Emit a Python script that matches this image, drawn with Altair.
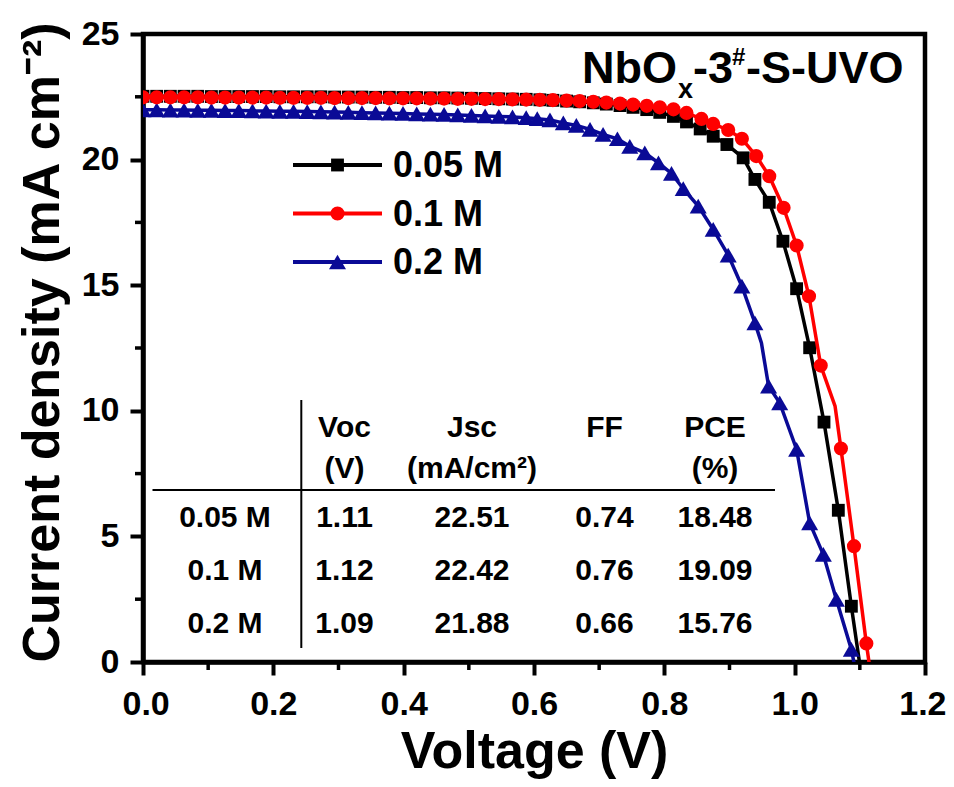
import altair as alt
import pandas as pd

F = "Liberation Sans, Arial, Helvetica, sans-serif"
W, H = 782, 628

SERIES = ["0.05 M", "0.1 M", "0.2 M"]
COLORS = ["#000000", "#ff0000", "#0a0a96"]
SHAPES = ["square", "circle", "triangle-up"]
SIZES = [165, 200, 290]

# ---- J-V data (V in volts, J in mA cm^-2) ----
black_v = [0.000, 0.021, 0.042, 0.063, 0.084, 0.105, 0.126, 0.147, 0.168, 0.189,
           0.210, 0.231, 0.252, 0.273, 0.294, 0.315, 0.336, 0.357, 0.378, 0.399,
           0.420, 0.441, 0.462, 0.483, 0.504, 0.525, 0.546, 0.567, 0.588,
           0.609, 0.629, 0.650, 0.670, 0.691, 0.711, 0.732, 0.752, 0.773, 0.793,
           0.814, 0.834, 0.855, 0.875, 0.896, 0.921, 0.939, 0.961, 0.982, 1.003,
           1.023, 1.045, 1.067, 1.087, 1.105]
black_j = [22.52, 22.52, 22.52, 22.52, 22.52, 22.51, 22.51, 22.51, 22.51, 22.51,
           22.50, 22.50, 22.50, 22.50, 22.49, 22.49, 22.49, 22.48, 22.48, 22.47,
           22.47, 22.46, 22.46, 22.45, 22.44, 22.43, 22.42, 22.41, 22.40,
           22.38, 22.36, 22.33, 22.30, 22.26, 22.21, 22.15, 22.08, 21.99, 21.88,
           21.72, 21.50, 21.22, 20.93, 20.60, 20.07, 19.21, 18.30, 16.75, 14.86,
           12.51, 9.55, 6.04, 2.22, -1.00]
black_line_only = [1.105]

red_v = [0.000, 0.021, 0.042, 0.063, 0.084, 0.105, 0.126, 0.147, 0.168, 0.189,
         0.210, 0.231, 0.252, 0.273, 0.294, 0.315, 0.336, 0.357, 0.378, 0.399,
         0.420, 0.441, 0.462, 0.483, 0.504, 0.525, 0.546, 0.567, 0.588,
         0.609, 0.629, 0.650, 0.670, 0.691, 0.711, 0.732, 0.752, 0.773, 0.793,
         0.814, 0.834, 0.857, 0.875, 0.898, 0.919, 0.941, 0.961, 0.983, 1.003,
         1.022, 1.040, 1.062, 1.071, 1.091, 1.110, 1.125]
red_j = [22.48, 22.48, 22.48, 22.48, 22.48, 22.47, 22.47, 22.47, 22.47, 22.47,
         22.46, 22.46, 22.46, 22.46, 22.45, 22.45, 22.45, 22.45, 22.44, 22.44,
         22.44, 22.43, 22.43, 22.42, 22.42, 22.41, 22.41, 22.40, 22.39,
         22.38, 22.37, 22.35, 22.33, 22.30, 22.27, 22.23, 22.19, 22.14, 22.08,
         22.00, 21.86, 21.62, 21.42, 21.18, 20.83, 20.14, 19.34, 18.08, 16.58,
         14.56, 11.80, 10.18, 8.50, 4.61, 0.74, -2.00]
red_line_only = [1.062, 1.125]

blue_v = [0.000, 0.021, 0.042, 0.063, 0.084, 0.105, 0.126, 0.147, 0.168, 0.189,
          0.210, 0.231, 0.252, 0.273, 0.294, 0.315, 0.336, 0.357, 0.378, 0.399,
          0.420, 0.441, 0.462, 0.483, 0.504, 0.525, 0.546, 0.567, 0.588,
          0.605, 0.6245, 0.645, 0.665, 0.686, 0.706, 0.728, 0.747, 0.770, 0.791,
          0.811, 0.829, 0.852, 0.875, 0.898, 0.919, 0.939, 0.949, 0.960, 0.977,
          1.003, 1.023, 1.044, 1.064, 1.087, 1.100]
blue_j = [21.98, 21.98, 21.97, 21.97, 21.96, 21.96, 21.95, 21.95, 21.94, 21.93,
          21.92, 21.92, 21.91, 21.90, 21.89, 21.88, 21.87, 21.86, 21.85, 21.84,
          21.82, 21.81, 21.80, 21.78, 21.76, 21.74, 21.72, 21.70, 21.67,
          21.63, 21.58, 21.46, 21.36, 21.20, 21.00, 20.83, 20.53, 20.27, 19.87,
          19.45, 18.84, 18.15, 17.22, 16.20, 14.96, 13.50, 12.70, 10.98, 10.32,
          8.46, 5.54, 4.28, 2.49, 0.50, -1.20]
blue_line_only = [0.949, 1.100]

# ---- table ----
TABLE_HEAD1 = ["Voc", "Jsc", "FF", "PCE"]
TABLE_HEAD2 = ["(V)", "(mA/cm\u00b2)", "", "(%)"]
TABLE_ROWS = ["0.05 M", "0.1 M", "0.2 M"]
TABLE_VALUES = [["1.11", "22.51", "0.74", "18.48"],
                ["1.12", "22.42", "0.76", "19.09"],
                ["1.09", "21.88", "0.66", "15.76"]]

X_TICKS = [0.0, 0.2, 0.4, 0.6, 0.8, 1.0, 1.2]
X_MINOR = [0.1, 0.3, 0.5, 0.7, 0.9, 1.1]
Y_TICKS = [0, 5, 10, 15, 20, 25]
Y_MINOR = [2.5, 7.5, 12.5, 17.5, 22.5]

xs = alt.Scale(domain=[0, 1.2], nice=False, zero=False)
ys = alt.Scale(domain=[0, 25], nice=False, zero=False)

xaxis = alt.Axis(values=X_TICKS, format=".1f", tickSize=13, tickWidth=4,
                 domainWidth=4.5, domainColor="black", tickColor="black",
                 labelFont=F, labelFontSize=34, labelFontWeight="bold",
                 labelColor="black", labelPadding=12, labelFlush=True,
                 labelFlushOffset=21,
                 labelOverlap=False, grid=False,
                 title="Voltage (V)", titleFont=F, titleFontSize=52,
                 titleFontWeight="bold", titleColor="black",
                 titleBaseline="alphabetic", titleY=105, titleX=W / 2)
yaxis = alt.Axis(values=Y_TICKS, format="d", tickSize=13, tickWidth=4,
                 domainWidth=4.5, domainColor="black", tickColor="black",
                 labelFont=F, labelFontSize=34, labelFontWeight="bold",
                 labelColor="black", labelPadding=11, labelFlush=False,
                 labelOverlap=False, grid=False,
                 title="Current density (mA cm\u207b\u00b2)", titleFont=F,
                 titleFontSize=52, titleFontWeight="bold", titleColor="black",
                 titleAngle=270, titleBaseline="alphabetic", titleAlign="center",
                 titleX=-85, titleY=H / 2 - 6)

X = alt.X("V:Q", scale=xs, axis=xaxis)
Y = alt.Y("J:Q", scale=ys, axis=yaxis)

dummy = pd.DataFrame({"a": [0]})
layers = []

# minor ticks
layers.append(alt.Chart(pd.DataFrame({"V": X_MINOR})).mark_rule(
    color="black", strokeWidth=3.5).encode(x=X, y=alt.value(H), y2=alt.value(H + 8)))
layers.append(alt.Chart(pd.DataFrame({"J": Y_MINOR})).mark_rule(
    color="black", strokeWidth=3.5).encode(y=Y, x=alt.value(0), x2=alt.value(-8)))

series = [(black_v, black_j, black_line_only, 0),
          (blue_v, blue_j, blue_line_only, 2),
          (red_v, red_j, red_line_only, 1)]
for v, j, lo, k in series:
    df = pd.DataFrame({"V": v, "J": j})
    mk = df[~df["V"].isin(lo)]
    layers.append(alt.Chart(df).mark_line(color=COLORS[k], strokeWidth=3.5, clip=True)
                  .encode(x=X, y=Y, order="V:Q"))
    layers.append(alt.Chart(mk).mark_point(shape=SHAPES[k], filled=True, opacity=1,
                                           size=SIZES[k], color=COLORS[k], clip=True)
                  .encode(x=X, y=Y))


def txt(t, x, y, size, align="center", baseline="alphabetic"):
    return alt.Chart(dummy).mark_text(text=t, font=F, fontSize=size, fontWeight="bold",
                                      align=align, baseline=baseline, color="black"
                                      ).encode(x=alt.value(x), y=alt.value(y))


# legend
for i, name in enumerate(SERIES):
    ly = 131 + i * 48.5
    layers.append(alt.Chart(dummy).mark_rule(color=COLORS[i], strokeWidth=4).encode(
        x=alt.value(150), x2=alt.value(239), y=alt.value(ly)))
    layers.append(alt.Chart(dummy).mark_point(shape=SHAPES[i], filled=True, opacity=1,
                                              size=SIZES[i], color=COLORS[i]).encode(
        x=alt.value(194.5), y=alt.value(ly)))
    layers.append(txt(name, 250, ly + 12, 36, align="left"))

# title NbOx-3#-S-UVO
layers.append(txt("NbO", 439, 49, 45, align="left"))
layers.append(txt("x", 535, 64, 27, align="left"))
layers.append(txt("-3", 550, 49, 45, align="left"))
layers.append(txt("#", 589, 31, 24, align="left"))
layers.append(txt("-S-UVO", 603, 49, 45, align="left"))

# table
COL_X = [201.5, 329, 461.5, 572]
ROW_LABEL_X = 82
for c, h in enumerate(TABLE_HEAD1):
    layers.append(txt(h, COL_X[c], 402.5, 30))
for c, h in enumerate(TABLE_HEAD2):
    if h:
        layers.append(txt(h, COL_X[c], 444, 30))
for r, rl in enumerate(TABLE_ROWS):
    by = [493.3, 546, 599.3][r]
    layers.append(txt(rl, ROW_LABEL_X, by, 30))
    for c, val in enumerate(TABLE_VALUES[r]):
        layers.append(txt(val, COL_X[c], by, 30))
layers.append(alt.Chart(dummy).mark_rule(color="black", strokeWidth=2).encode(
    x=alt.value(158.3), y=alt.value(366), y2=alt.value(614)))
layers.append(alt.Chart(dummy).mark_rule(color="black", strokeWidth=2).encode(
    x=alt.value(9.5), x2=alt.value(632), y=alt.value(456)))

chart = alt.layer(*layers).properties(
    width=W, height=H,
    padding={"left": 135, "top": 26, "right": 21, "bottom": 117},
    autosize=alt.AutoSizeParams(type="none"),
    background="white",
).configure_view(stroke="black", strokeWidth=4.5)

chart.save("out.html", embed_options={"renderer": "svg", "actions": False})
